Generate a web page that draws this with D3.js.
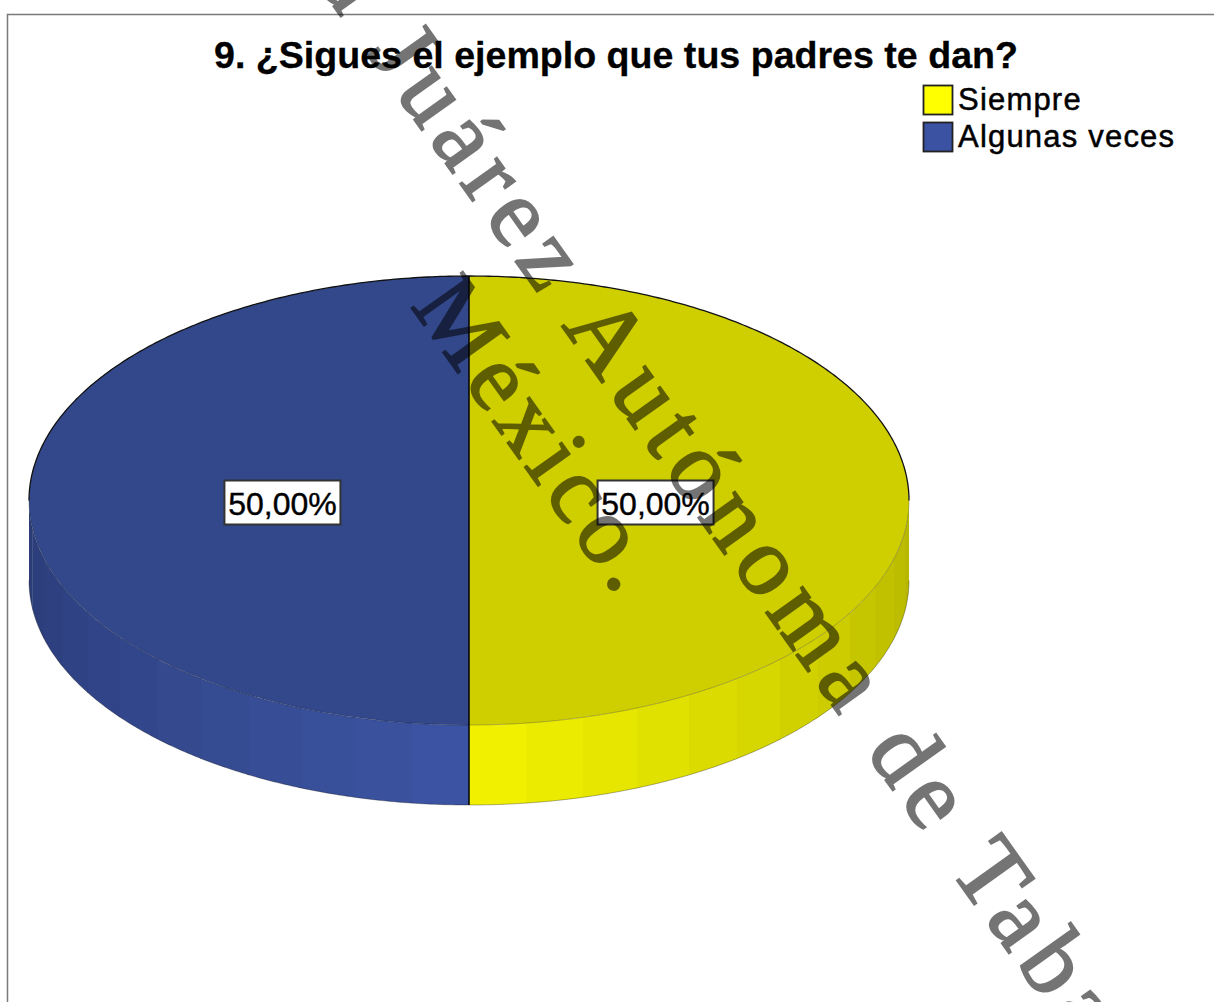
<!DOCTYPE html>
<html>
<head>
    <meta charset="utf-8" />
    <title>9. ¿Sigues el ejemplo que tus padres te dan?</title>
    <script src="https://d3js.org/d3.v7.min.js"></script>
    <style>
        html, body { margin: 0; padding: 0; background: #fff; overflow: hidden; }
        svg { display: block; }
        text { font-family: "Liberation Sans", Arial, sans-serif; }
    </style>
</head>
<body>
    <script>
        var categories = ["Siempre", "Algunas veces"];
        var values = [50, 50];
        var labels = ["50,00%", "50,00%"];
        var title = "9. ¿Sigues el ejemplo que tus padres te dan?";
        var watermark1 = "Universidad Juárez Autónoma de Tabasco";
        var watermark2 = "México.";

        var legendColors = ["#ffff00", "#3b52a3"];
        var topColors = ["#cfcf00", "#33488a"];
        var sideFront = ["#f3f300", "#3c54a4"];
        var sideEdge = ["#b4b400", "#2a3b75"];

        var w = 1214;
        var h = 1002;
        var cx = 469, cy = 500.5, rx = 440, ry = 224.5, depth = 80;
        var step = Math.PI / 24;

        var svg = d3.select("body").append("svg")
            .attr("width", w)
            .attr("height", h);

        //frame
        svg.append("path")
            .attr("d", "M7.5," + h + "V14.5H" + w)
            .attr("fill", "none")
            .attr("stroke", "#7a7a7a")
            .attr("stroke-width", 1.5);

        svg.append("text")
            .attr("x", 616)
            .attr("y", 68)
            .attr("text-anchor", "middle")
            .attr("font-size", 37.6)
            .attr("font-weight", "bold")
            .attr("fill", "#000")
            .attr("stroke", "#000")
            .attr("stroke-width", 0.3)
            .text(title);

        //legend
        var legend = svg.selectAll(".legend")
            .data(categories)
            .enter().append("g")
            .attr("class", "legend")
            .attr("transform", function (d, i) { return "translate(923," + (85 + 37 * i) + ")"; });
        legend.append("rect")
            .attr("x", 0.5).attr("y", 0.5)
            .attr("width", 29).attr("height", 29)
            .attr("fill", function (d, i) { return legendColors[i]; })
            .attr("stroke", "#222")
            .attr("stroke-width", 1.8);
        legend.append("text")
            .attr("x", 35)
            .attr("y", 25)
            .attr("font-size", 31)
            .attr("letter-spacing", 1.2)
            .attr("fill", "#000")
            .attr("stroke", "#000")
            .attr("stroke-width", 0.5)
            .text(function (d) { return d; });

        //pie, angle 0 on top and going clockwise
        var pie = d3.pie().sort(null).value(function (d) { return d; });
        var slices = pie(values);

        var sx = d3.scaleLinear().domain([-1, 1]).range([cx - rx, cx + rx]);
        var sy = d3.scaleLinear().domain([-1, 1]).range([cy - ry, cy + ry]);

        var wall = d3.area()
            .x(function (a) { return sx(Math.sin(a)); })
            .y0(function (a) { return sy(-Math.cos(a)); })
            .y1(function (a) { return sy(-Math.cos(a)) + depth; });

        function angles(a0, a1) {
            var n = Math.max(2, Math.ceil((a1 - a0) / 0.01));
            return d3.range(n + 1).map(function (i) { return a0 + (a1 - a0) * i / n; });
        }

        //side wall bands, only the front half can be seen
        slices.forEach(function (s, i) {
            var a0 = Math.max(s.startAngle, Math.PI / 2);
            var a1 = Math.min(s.endAngle, Math.PI * 1.5);
            var shade = d3.scaleLinear().domain([0, Math.PI / 2]).range([sideFront[i], sideEdge[i]]);
            for (var a = a0; a < a1 - 1e-6; a += step) {
                var b = Math.min(a + step, a1);
                svg.append("path")
                    .attr("d", wall(angles(a, b + (b < a1 ? 0.004 : 0))))
                    .attr("fill", shade(Math.abs((a + b) / 2 - Math.PI)));
            }
        });

        //wall outline at the bottom
        svg.append("path")
            .attr("d", d3.line()
                .x(function (a) { return sx(Math.sin(a)); })
                .y(function (a) { return sy(-Math.cos(a)) + depth; })(angles(Math.PI / 2, Math.PI * 1.5)))
            .attr("fill", "none")
            .attr("stroke", "#000")
            .attr("stroke-opacity", 0.3)
            .attr("stroke-width", 1);

        //top face, arc of radius 1 stretched on the ellipse
        var arc = d3.arc().innerRadius(0).outerRadius(1);
        svg.append("g")
            .attr("transform", "translate(" + cx + "," + cy + ") scale(" + rx + "," + ry + ")")
            .selectAll("path")
            .data(slices)
            .enter().append("path")
            .attr("d", arc)
            .attr("fill", function (d, i) { return topColors[i]; });

        var rim = d3.line()
            .x(function (a) { return sx(Math.sin(a)); })
            .y(function (a) { return sy(-Math.cos(a)); });
        svg.append("path")
            .attr("d", rim(angles(-Math.PI / 2, Math.PI / 2)))
            .attr("fill", "none")
            .attr("stroke", "#111")
            .attr("stroke-width", 1.3);
        svg.append("path")
            .attr("d", rim(angles(Math.PI / 2, Math.PI * 1.5)))
            .attr("fill", "none")
            .attr("stroke", "#000")
            .attr("stroke-opacity", 0.25)
            .attr("stroke-width", 1);

        //divider between the slices
        svg.append("line")
            .attr("x1", cx).attr("x2", cx)
            .attr("y1", cy - ry).attr("y2", cy + ry + depth)
            .attr("stroke", "#000")
            .attr("stroke-width", 1.5);

        //value labels
        var label = svg.selectAll(".value")
            .data(slices)
            .enter().append("g")
            .attr("class", "value")
            .attr("transform", function (d) {
                var a = (d.startAngle + d.endAngle) / 2;
                return "translate(" + (sx(Math.sin(a) * 0.424)) + "," + (cy + 2) + ")";
            });
        label.append("rect")
            .attr("x", -58).attr("y", -22)
            .attr("width", 116).attr("height", 44)
            .attr("fill", "#fff")
            .attr("stroke", "#333")
            .attr("stroke-width", 2);
        label.append("text")
            .attr("y", 12)
            .attr("text-anchor", "middle")
            .attr("font-size", 32)
            .attr("fill", "#000")
            .attr("stroke", "#000")
            .attr("stroke-width", 0.4)
            .text(function (d, i) { return labels[i]; });

        //watermark on top of everything
        function mark(txt, x, y, size, spacing) {
            svg.append("text")
                .attr("transform", "translate(" + x + "," + y + ") rotate(54.5)")
                .attr("text-anchor", "end")
                .attr("font-size", size)
                .attr("letter-spacing", spacing)
                .attr("fill", "#000")
                .attr("stroke", "#000")
                .attr("stroke-width", 2)
                .attr("opacity", 0.54)
                .style("font-family", '"Liberation Serif", serif')
                .text(txt);
        }
        mark(watermark1, 1172, 1182, 98, 9.4);
        mark(watermark2, 621, 602, 96, 6.6);
    </script>
</body>
</html>
